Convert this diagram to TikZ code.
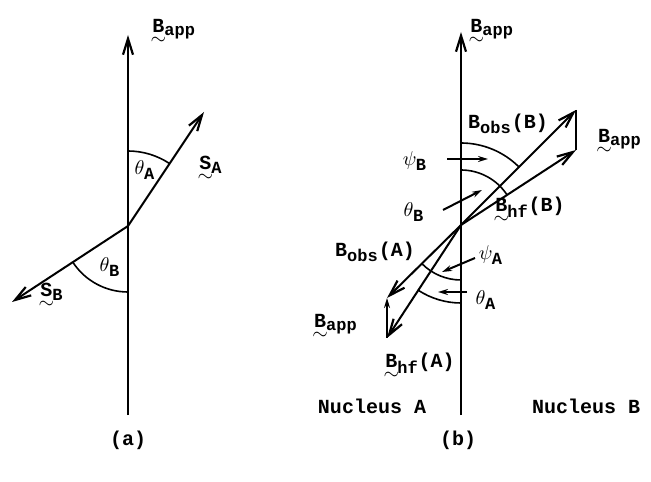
\documentclass[tikz,border=0pt]{standalone}
\usepackage{amsmath}
\usepackage{fontspec}
\setmonofont{Liberation Mono}
\usetikzlibrary{arrows.meta}
\DeclareMathSizes{10}{10}{8.5}{7}
\newcommand{\tv}[1]{\text{\rlap{\raisebox{-0.62em}[0pt][0pt]{\makebox[0.6em]{$\sim$}}}#1}}
\newcommand{\labfont}{\ttfamily\bfseries\fontsize{10}{12}\selectfont}
\tikzset{
  vec/.style={line width=1pt, -{Straight Barb[length=8pt,width=5pt,line width=1.1pt]}},
  ptr/.style={line width=1pt, -{Stealth[length=5pt,width=3pt]}},
  ang/.style={line width=0.8pt},
  lab/.style={inner sep=1pt, font=\labfont}
}
\begin{document}
\begin{tikzpicture}[x=0.5pt, y=0.5pt]
  \useasboundingbox (0,0) rectangle (651,481);
  % (a) 軸とスピン
  \coordinate (Oa) at (128,255);
  \coordinate (aTop) at (128,446);
  \coordinate (aBot) at (128,66);
  \coordinate (SAtip) at (204,369);
  \coordinate (SBtip) at (12,179);
  \draw[vec] (aBot) -- (aTop);
  \draw[vec] (Oa) -- (SAtip);
  \draw[vec] (Oa) -- (SBtip);
  \draw[ang] (Oa) ++(90:75) arc[start angle=90, end angle=56.3, radius=75];
  \draw[ang] (Oa) ++(213.2:66) arc[start angle=213.2, end angle=270, radius=66];
  \node[lab, anchor=west] (BappA) at (150,452) {$\tv{B}_{\text{app}}$};
  \node[lab] (SAlab) at (211,316) {$\tv{S}_{\text{A}}$};
  \node[lab] (SBlab) at (52,189) {$\tv{S}_{\text{B}}$};
  \node[lab] (thA) at (145,311) {$\theta_{\text{A}}$};
  \node[lab] (thB) at (110,214) {$\theta_{\text{B}}$};
  \node[lab] (capA) at (128,41) {(a)};

  % (b) 超微細場
  \coordinate (Ob) at (461,256);
  \coordinate (bTop) at (461,449);
  \coordinate (bBot) at (461,66);
  \coordinate (obsB) at (576,371);
  \coordinate (hfB) at (576,331);
  \coordinate (obsA) at (387,183);
  \coordinate (hfA) at (387,143);
  \draw[vec] (bBot) -- (bTop);
  \draw[vec] (Ob) -- (obsB);
  \draw[vec] (Ob) -- (hfB);
  \draw[line width=1pt] (hfB) -- (obsB);
  \draw[vec] (Ob) -- (obsA);
  \draw[vec] (Ob) -- (hfA);
  \draw[ptr] (hfA) -- (obsA);
  \draw[ang] (Ob) ++(90:82) arc[start angle=90, end angle=45, radius=82];
  \draw[ang] (Ob) ++(90:55) arc[start angle=90, end angle=33.1, radius=55];
  \draw[ang] (Ob) ++(270:55) arc[start angle=270, end angle=224.6, radius=55];
  \draw[ang] (Ob) ++(270:78) arc[start angle=270, end angle=236.8, radius=78];
  % 角度の指示矢印
  \node[lab] (psiB) at (415,320) {$\psi_{\text{B}}$};
  \node[lab] (thBb) at (414,269) {$\theta_{\text{B}}$};
  \node[lab] (psiA) at (491,226) {$\psi_{\text{A}}$};
  \node[lab] (thAb) at (486,181) {$\theta_{\text{A}}$};
  \coordinate (psiBs) at (447,322);
  \coordinate (psiBe) at (488,322);
  \coordinate (thBs) at (443,271);
  \coordinate (thBe) at (482,291);
  \coordinate (psiAs) at (475,223);
  \coordinate (psiAe) at (442,209);
  \coordinate (thAs) at (467,189);
  \coordinate (thAe) at (438,189);
  \draw[ptr] (psiBs) -- (psiBe);
  \draw[ptr] (thBs) -- (thBe);
  \draw[ptr] (psiAs) -- (psiAe);
  \draw[ptr] (thAs) -- (thAe);
  % ラベル
  \node[lab, anchor=west] (BappB) at (468,452) {$\tv{B}_{\text{app}}$};
  \node[lab] (BobsB) at (508,357) {B$_{\text{obs}}$(B)};
  \node[lab] (BappR) at (620,342) {$\tv{B}_{\text{app}}$};
  \node[lab] (BhfB) at (530,274) {$\tv{B}_{\text{hf}}$(B)};
  \node[lab] (BobsA) at (375,229) {B$_{\text{obs}}$(A)};
  \node[lab] (BappL) at (336,157) {$\tv{B}_{\text{app}}$};
  \node[lab] (BhfA) at (420,118) {$\tv{B}_{\text{hf}}$(A)};
  \node[lab] (nucA) at (372,75) {Nucleus A};
  \node[lab] (nucB) at (586,75) {Nucleus B};
  \node[lab] (capB) at (458,41) {(b)};
\end{tikzpicture}
\end{document}
